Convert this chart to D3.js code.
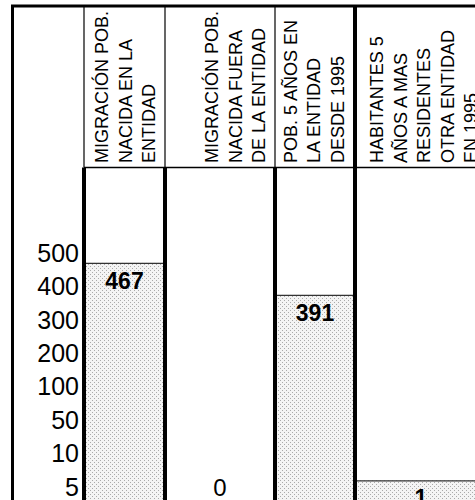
<!DOCTYPE html>
<html><head><meta charset="utf-8">
<script src="https://cdn.jsdelivr.net/npm/d3@7"></script>
<style>body{margin:0;background:#fff;overflow:hidden}</style>
</head><body><svg id="c" width="475" height="500"></svg>
<script>
// ---- data ----
const categories = [
  "MIGRACIÓN POB. NACIDA EN LA ENTIDAD",
  "MIGRACIÓN POB. NACIDA FUERA DE LA ENTIDAD",
  "POB. 5 AÑOS EN LA ENTIDAD DESDE 1995",
  "HABITANTES 5 AÑOS A MAS RESIDENTES OTRA ENTIDAD EN 1995"
];
const headerLines = [
  ["MIGRACIÓN POB.", "NACIDA EN LA", "ENTIDAD"],
  ["MIGRACIÓN POB.", "NACIDA FUERA", "DE LA ENTIDAD"],
  ["POB. 5 AÑOS EN", "LA ENTIDAD", "DESDE 1995"],
  ["HABITANTES 5", "AÑOS A MAS", "RESIDENTES", "OTRA ENTIDAD", "EN 1995"]
];
const values = [467, 0, 391, 1];
const tickLabels = ["500", "400", "300", "200", "100", "50", "10", "5"];

// ---- layout ----
const W = 475, H = 500;
const font = "'Liberation Sans', Arial, sans-serif";
const bounds = [84, 165, 275, 355, 487];   // column boundaries
const thickHeader = [false, false, false, true];
const headerBottom = 167.5, frameTop = 6, plotBottom = 520;

const svg = d3.select("#c");
const defs = svg.append("defs");
const pat = defs.append("pattern").attr("id", "dots")
  .attr("width", 4).attr("height", 4).attr("patternUnits", "userSpaceOnUse");
pat.append("rect").attr("width", 4).attr("height", 4).attr("fill", "#f4f4f4");
pat.append("rect").attr("x", 0).attr("y", 0).attr("width", 1).attr("height", 1).attr("fill", "#aaaaaa");
pat.append("rect").attr("x", 2).attr("y", 2).attr("width", 1).attr("height", 1).attr("fill", "#aaaaaa");

const xLeft = d3.scaleOrdinal().domain(categories).range(bounds.slice(0, 4));
const xRight = d3.scaleOrdinal().domain(categories).range(bounds.slice(1));
const y = d3.scaleLinear().domain([0, 5, 500]).range([486, 457.5, 249]);
const yLab = d3.scalePoint().domain(tickLabels).range([253, 486.5]);

const barData = categories.map((c, i) => ({ c, v: values[i] })).filter(d => d.v > 0);

// bars
svg.append("g").selectAll("rect").data(barData).join("rect")
  .attr("x", d => xLeft(d.c) + 1)
  .attr("width", d => xRight(d.c) - xLeft(d.c) - 2)
  .attr("y", d => y(d.v))
  .attr("height", d => plotBottom - y(d.v))
  .attr("fill", "url(#dots)");
svg.append("g").selectAll("line").data(barData).join("line")
  .attr("x1", d => xLeft(d.c)).attr("x2", d => xRight(d.c))
  .attr("y1", d => y(d.v) + 0.5).attr("y2", d => y(d.v) + 0.5)
  .attr("stroke", "#333").attr("stroke-width", 1.2);

// grid lines
const g = svg.append("g").attr("stroke", "#000");
g.append("line").attr("x1", 11).attr("x2", W).attr("y1", frameTop).attr("y2", frameTop).attr("stroke-width", 3);
g.append("line").attr("x1", 12.5).attr("x2", 12.5).attr("y1", frameTop).attr("y2", plotBottom).attr("stroke-width", 3);
g.append("line").attr("x1", bounds[0]).attr("x2", W).attr("y1", headerBottom).attr("y2", headerBottom).attr("stroke-width", 1.5);
bounds.slice(0, 4).forEach((b, i) => {
  g.append("line").attr("x1", b).attr("x2", b).attr("y1", frameTop).attr("y2", headerBottom)
    .attr("stroke-width", thickHeader[i] ? 4 : 1.2);
  g.append("line").attr("x1", b).attr("x2", b).attr("y1", headerBottom).attr("y2", plotBottom)
    .attr("stroke-width", 4);
});

// header text
categories.forEach((c, ci) => {
  const lines = headerLines[ci];
  const rInner = xRight(c) - (ci === 2 ? 2 : 0.5);
  const n = lines.length;
  lines.forEach((t, li) => {
    const cx = rInner - 15.5 - (n - 1 - li) * 23.5;
    svg.append("text")
      .attr("transform", `translate(${cx},163) rotate(-90)`)
      .attr("text-anchor", "start").attr("dominant-baseline", "central")
      .attr("font-family", font).attr("font-size", 18).attr("fill", "#000")
      .text(t);
  });
});

// y labels
svg.append("g").selectAll("text").data(tickLabels).join("text")
  .attr("x", 79).attr("y", d => yLab(d))
  .attr("text-anchor", "end").attr("dominant-baseline", "central")
  .attr("font-family", font).attr("font-size", 25).attr("fill", "#000")
  .text(d => d);

// value labels
svg.append("g").selectAll("text").data(categories).join("text")
  .attr("x", d => (xLeft(d) + xRight(d)) / 2)
  .attr("y", (d, i) => values[i] === 0 ? y(0) + 1 : y(values[i]) + 18)
  .attr("text-anchor", "middle").attr("dominant-baseline", "central")
  .attr("font-family", font).attr("font-size", (d, i) => values[i] === 0 ? 24 : 23)
  .attr("font-weight", (d, i) => values[i] === 0 ? "normal" : "bold")
  .attr("fill", "#000")
  .text((d, i) => values[i]);
</script>
</body></html>
